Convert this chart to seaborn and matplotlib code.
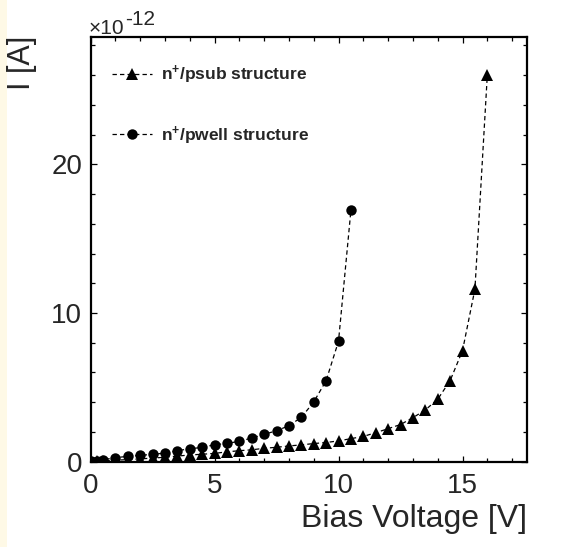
import numpy as np
import pandas as pd
import matplotlib
matplotlib.use("Agg")
import matplotlib.pyplot as plt
from matplotlib.patches import Rectangle
from matplotlib.ticker import MultipleLocator
import seaborn as sns

# ---- data (current in units of 1e-12 A) ----
psub_v = [0.0, 0.25, 0.5, 1.0, 1.5, 2.0, 2.5, 3.0, 3.5, 4.0, 4.5, 5.0, 5.5, 6.0, 6.5, 7.0,
          7.5, 8.0, 8.5, 9.0, 9.5, 10.0, 10.5, 11.0, 11.5, 12.0, 12.5, 13.0, 13.5, 14.0,
          14.5, 15.0, 15.5, 16.0]
psub_i = [0.0, 0.03, 0.05, 0.10, 0.14, 0.19, 0.24, 0.30, 0.38, 0.45, 0.50, 0.56, 0.66, 0.74,
          0.80, 0.90, 0.97, 1.06, 1.13, 1.22, 1.29, 1.40, 1.55, 1.70, 1.95, 2.22, 2.50, 2.96,
          3.48, 4.20, 5.45, 7.47, 11.6, 26.0]
pwell_v = [0.0, 0.25, 0.5, 1.0, 1.5, 2.0, 2.5, 3.0, 3.5, 4.0, 4.5, 5.0, 5.5, 6.0, 6.5, 7.0,
           7.5, 8.0, 8.5, 9.0, 9.5, 10.0, 10.5]
pwell_i = [0.03, 0.07, 0.13, 0.27, 0.36, 0.43, 0.49, 0.58, 0.74, 0.87, 0.96, 1.14, 1.23, 1.37,
           1.59, 1.84, 2.08, 2.42, 2.98, 4.01, 5.45, 8.1, 16.9]
labels = [r"n$^{+}$/psub structure", r"n$^{+}$/pwell structure"]

sns.set_theme(style="ticks")
plt.rcParams["font.family"] = ["Liberation Sans", "DejaVu Sans"]
plt.rcParams["mathtext.default"] = "regular"

W, H = 587, 547
fig = plt.figure(figsize=(W / 100, H / 100), dpi=100)
fig.patch.set_facecolor("white")
fig.add_artist(Rectangle((0, 0), 7 / W, 1, transform=fig.transFigure,
                         facecolor="#FEF9E6", edgecolor="none", zorder=-10))

L, R, T, B = 90.5, 527, 37, 461.7
ax = fig.add_axes([L / W, 1 - B / H, (R - L) / W, (B - T) / H])

df1 = pd.DataFrame({"V": psub_v, "I": psub_i})
df2 = pd.DataFrame({"V": pwell_v, "I": pwell_i})
dash = (0, (3.5, 2.5))
sns.lineplot(data=df1, x="V", y="I", ax=ax, color="black", marker="^", markersize=9,
             markeredgewidth=0, linestyle=dash, linewidth=0.9, label=labels[0],
             estimator=None, sort=False)
sns.lineplot(data=df2, x="V", y="I", ax=ax, color="black", marker="o", markersize=7.5,
             markeredgewidth=0, linestyle=dash, linewidth=0.9, label=labels[1],
             estimator=None, sort=False)

ax.set_xlim(0, 17.6)
ax.set_ylim(0, 28.56)
ax.xaxis.set_major_locator(MultipleLocator(5))
ax.xaxis.set_minor_locator(MultipleLocator(1))
ax.yaxis.set_major_locator(MultipleLocator(10))
ax.yaxis.set_minor_locator(MultipleLocator(2))
ax.tick_params(which="both", direction="in", top=True, right=True, color="black")
ax.tick_params(which="major", length=4.5, width=0.9, labelsize=20, pad=6)
ax.tick_params(which="minor", length=2.7, width=0.9)
ax.tick_params(axis="x", which="major", pad=8)
for s in ax.spines.values():
    s.set_linewidth(1.6)
    s.set_color("black")

ax.set_xlabel("Bias Voltage [V]", fontsize=23, loc="right", labelpad=4)
ax.set_ylabel("")
fig.text(22 / W, 1 - 36 / H, "I [A]", fontsize=22, rotation=90, ha="center", va="top")

leg = ax.legend(loc="upper left", bbox_to_anchor=(0.05, 0.937), frameon=False,
                handlelength=2.3, handletextpad=0.5, labelspacing=2.2,
                borderpad=0, borderaxespad=0, prop={"weight": "bold", "size": 12.5})

base = fig.text(89 / W, 1 - 33.5 / H, "\u00d710", fontsize=15, va="baseline", ha="left")
fig.canvas.draw()
bb = base.get_window_extent(renderer=fig.canvas.get_renderer())
fig.text(bb.x1 / W + 0.5 / W, 1 - 25 / H, "-12", fontsize=15, va="baseline", ha="left")

fig.savefig("out.png", dpi=100)
